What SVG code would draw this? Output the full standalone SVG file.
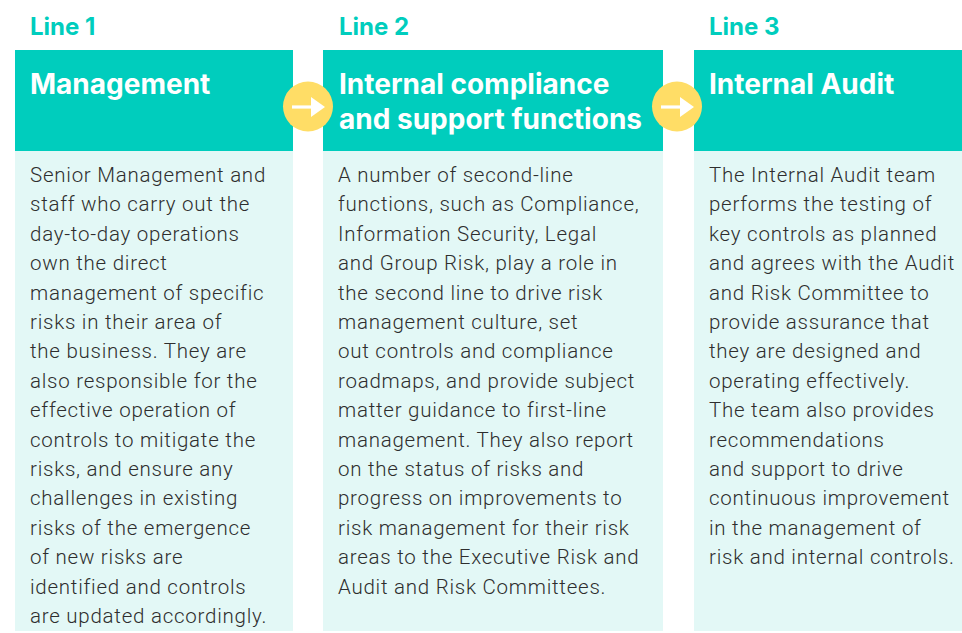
<svg xmlns="http://www.w3.org/2000/svg" width="962" height="633" viewBox="0 0 962 633">
<style>
.hdr{fill:#00CDBD}
.body{fill:#E3F8F6}
.lbl{font-family:Inter,"Liberation Sans",sans-serif;font-weight:700;font-size:24px;fill:#00CDBD}
.ttl{font-family:Inter,"Liberation Sans",sans-serif;font-weight:700;font-size:28px;fill:#ffffff}
.txt{font-family:Roboto,"Liberation Sans",sans-serif;font-size:20.5px;font-weight:300;letter-spacing:0.75px;fill:#2e2e2e}
.circ{fill:#FFDD66}
.arr{stroke:#ffffff;stroke-width:3.2;fill:none}
.head{fill:#ffffff}
</style>
<rect width="962" height="633" fill="#ffffff"/>
<g id="line1">
<text class="lbl" x="30" y="35">Line 1</text>
<rect class="hdr" x="15" y="50" width="278" height="101"/>
<rect class="body" x="15" y="151" width="278" height="480"/>
<text class="ttl" x="30" y="94">Management</text>
<text class="txt" x="30" y="182">Senior Management and</text>
<text class="txt" x="30" y="211.4">staff who carry out the</text>
<text class="txt" x="30" y="240.8">day-to-day operations</text>
<text class="txt" x="30" y="270.2">own the direct</text>
<text class="txt" x="30" y="299.6">management of specific</text>
<text class="txt" x="30" y="329">risks in their area of</text>
<text class="txt" x="30" y="358.4">the business. They are</text>
<text class="txt" x="30" y="387.8">also responsible for the</text>
<text class="txt" x="30" y="417.2">effective operation of</text>
<text class="txt" x="30" y="446.6">controls to mitigate the</text>
<text class="txt" x="30" y="476">risks, and ensure any</text>
<text class="txt" x="30" y="505.4">challenges in existing</text>
<text class="txt" x="30" y="534.8">risks of the emergence</text>
<text class="txt" x="30" y="564.2">of new risks are</text>
<text class="txt" x="30" y="593.6">identified and controls</text>
<text class="txt" x="30" y="623">are updated accordingly.</text>
</g>
<g id="line2">
<text class="lbl" x="339" y="35">Line 2</text>
<rect class="hdr" x="323" y="50" width="340" height="101"/>
<rect class="body" x="323" y="151" width="340" height="480"/>
<text class="ttl" x="339" y="94">Internal compliance</text>
<text class="ttl" x="339" y="129">and support functions</text>
<text class="txt" x="338" y="182">A number of second-line</text>
<text class="txt" x="338" y="211.4">functions, such as Compliance,</text>
<text class="txt" x="338" y="240.8">Information Security, Legal</text>
<text class="txt" x="338" y="270.2">and Group Risk, play a role in</text>
<text class="txt" x="338" y="299.6">the second line to drive risk</text>
<text class="txt" x="338" y="329">management culture, set</text>
<text class="txt" x="338" y="358.4">out controls and compliance</text>
<text class="txt" x="338" y="387.8">roadmaps, and provide subject</text>
<text class="txt" x="338" y="417.2">matter guidance to first-line</text>
<text class="txt" x="338" y="446.6">management. They also report</text>
<text class="txt" x="338" y="476">on the status of risks and</text>
<text class="txt" x="338" y="505.4">progress on improvements to</text>
<text class="txt" x="338" y="534.8">risk management for their risk</text>
<text class="txt" x="338" y="564.2">areas to the Executive Risk and</text>
<text class="txt" x="338" y="593.6">Audit and Risk Committees.</text>
</g>
<g id="line3">
<text class="lbl" x="709" y="35">Line 3</text>
<rect class="hdr" x="694" y="50" width="268" height="101"/>
<rect class="body" x="694" y="151" width="268" height="480"/>
<text class="ttl" x="709" y="94">Internal Audit</text>
<text class="txt" x="709" y="182">The Internal Audit team</text>
<text class="txt" x="709" y="211.4">performs the testing of</text>
<text class="txt" x="709" y="240.8">key controls as planned</text>
<text class="txt" x="709" y="270.2">and agrees with the Audit</text>
<text class="txt" x="709" y="299.6">and Risk Committee to</text>
<text class="txt" x="709" y="329">provide assurance that</text>
<text class="txt" x="709" y="358.4">they are designed and</text>
<text class="txt" x="709" y="387.8">operating effectively.</text>
<text class="txt" x="709" y="417.2">The team also provides</text>
<text class="txt" x="709" y="446.6">recommendations</text>
<text class="txt" x="709" y="476">and support to drive</text>
<text class="txt" x="709" y="505.4">continuous improvement</text>
<text class="txt" x="709" y="534.8">in the management of</text>
<text class="txt" x="709" y="564.2">risk and internal controls.</text>
</g>
<g id="connectors">
<g id="arrow1">
<circle class="circ" cx="308" cy="106.5" r="25"/>
<line class="arr" x1="292" y1="107" x2="314" y2="107"/>
<polygon class="head" points="311,97 325,107 311,117"/>
</g>
<g id="arrow2">
<circle class="circ" cx="677" cy="106.5" r="25"/>
<line class="arr" x1="661" y1="107" x2="683" y2="107"/>
<polygon class="head" points="680,97 694,107 680,117"/>
</g>
</g>
</svg>
